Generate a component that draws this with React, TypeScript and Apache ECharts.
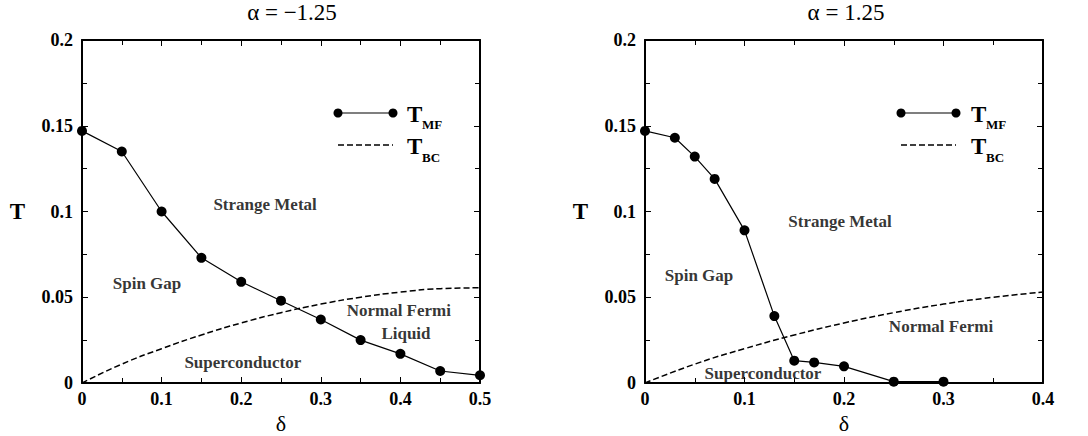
import React, { useEffect, useRef } from "react";
import * as echarts from "echarts";

// ---- data ----
const leftDelta = [0, 0.05, 0.1, 0.15, 0.2, 0.25, 0.3, 0.35, 0.4, 0.45, 0.5];
const leftTmf = [0.147, 0.135, 0.1, 0.073, 0.059, 0.048, 0.037, 0.025, 0.017, 0.007, 0.0045];
const rightDelta = [0, 0.03, 0.05, 0.07, 0.1, 0.13, 0.15, 0.17, 0.2, 0.25, 0.3];
const rightTmf = [0.147, 0.143, 0.132, 0.119, 0.089, 0.039, 0.013, 0.012, 0.0097, 0.0008, 0.0008];
const bcDelta = [0, 0.05, 0.1, 0.15, 0.2, 0.25, 0.3, 0.35, 0.4, 0.45, 0.5];
const bcValues = [0, 0.011, 0.02, 0.028, 0.035, 0.041, 0.046, 0.05, 0.053, 0.055, 0.0555];
const rightBcCount = 9;

const leftTitle = "α = −1.25";
const rightTitle = "α = 1.25";

const leftNotes: [number, number, string][] = [
  [0.23, 0.1038, "Strange Metal"],
  [0.0817, 0.0583, "Spin Gap"],
  [0.398, 0.042, "Normal Fermi"],
  [0.407, 0.0286, "Liquid"],
  [0.202, 0.0122, "Superconductor"],
];
const rightNotes: [number, number, string][] = [
  [0.196, 0.0939, "Strange Metal"],
  [0.0543, 0.0624, "Spin Gap"],
  [0.2975, 0.0332, "Normal Fermi"],
  [0.1186, 0.0058, "Superconductor"],
];

const FONT = "Liberation Serif";

function zip(xs: number[], ys: number[]) {
  return ys.map((y, i) => [xs[i], y]);
}

function xAxes(grid: number, max: number) {
  const base = {
    type: "value",
    gridIndex: grid,
    min: 0,
    max,
    interval: 0.1,
    splitLine: { show: false },
    axisLine: { show: true, onZero: false, lineStyle: { color: "#000", width: 2 } },
    axisTick: { show: true, inside: true, length: 6, lineStyle: { color: "#000", width: 1 } },
    minorTick: { show: true, splitNumber: 2, length: 5, lineStyle: { color: "#000", width: 1 } },
  };
  return [
    {
      ...base,
      position: "bottom",
      name: "δ",
      nameLocation: "middle",
      nameGap: 29,
      nameTextStyle: { fontFamily: FONT, fontSize: 22, color: "#000" },
      axisLabel: { fontFamily: FONT, fontWeight: "bold", fontSize: 18, color: "#000", margin: 7 },
    },
    { ...base, position: "top", axisLabel: { show: false } },
  ];
}

function yAxes(grid: number) {
  const base = {
    type: "value",
    gridIndex: grid,
    min: 0,
    max: 0.2,
    interval: 0.05,
    splitLine: { show: false },
    axisLine: { show: true, onZero: false, lineStyle: { color: "#000", width: 2 } },
    axisTick: { show: true, inside: true, length: 6, lineStyle: { color: "#000", width: 1 } },
    minorTick: { show: true, splitNumber: 2, length: 5, lineStyle: { color: "#000", width: 1 } },
  };
  return [
    {
      ...base,
      position: "left",
      name: "T",
      nameLocation: "middle",
      nameGap: 57,
      nameRotate: 0,
      nameTextStyle: {
        fontFamily: FONT,
        fontWeight: "bold",
        fontSize: 23,
        color: "#000",
        padding: [0, 0, 14, 0],
      },
      axisLabel: { fontFamily: FONT, fontWeight: "bold", fontSize: 18, color: "#000", margin: 9 },
    },
    { ...base, position: "right", axisLabel: { show: false } },
  ];
}

function notesSeries(xi: number, yi: number, notes: [number, number, string][]) {
  return {
    type: "scatter",
    xAxisIndex: xi,
    yAxisIndex: yi,
    symbolSize: 1,
    itemStyle: { color: "rgba(0,0,0,0)" },
    silent: true,
    data: notes.map((n) => ({ value: [n[0], n[1]], name: n[2] })),
    label: {
      show: true,
      position: "inside",
      formatter: (p: any) => p.name,
      fontFamily: FONT,
      fontWeight: "bold",
      fontSize: 17,
      color: "#000",
    },
  };
}

function legendGraphics(x0: number, x1: number, tx: number) {
  const t = { fontFamily: FONT, fontWeight: "bold", fill: "#000" };
  return [
    { type: "line", shape: { x1: x0, y1: 113, x2: x1, y2: 113 }, style: { stroke: "#000", lineWidth: 1.2 } },
    { type: "circle", shape: { cx: x0, cy: 113, r: 4.5 }, style: { fill: "#000" } },
    { type: "circle", shape: { cx: x1, cy: 113, r: 4.5 }, style: { fill: "#000" } },
    { type: "text", x: tx, y: 114, style: { ...t, text: "T", fontSize: 23, verticalAlign: "middle" } },
    { type: "text", x: tx + 15, y: 124, style: { ...t, text: "MF", fontSize: 13, verticalAlign: "middle" } },
    {
      type: "line",
      shape: { x1: x0, y1: 145, x2: x1, y2: 145 },
      style: { stroke: "#000", lineWidth: 1.5, lineDash: [6, 3] },
    },
    { type: "text", x: tx, y: 146, style: { ...t, text: "T", fontSize: 23, verticalAlign: "middle" } },
    { type: "text", x: tx + 15, y: 157, style: { ...t, text: "BC", fontSize: 13, verticalAlign: "middle" } },
  ];
}

export default function App() {
  const ref = useRef<HTMLDivElement>(null);
  useEffect(() => {
    document.body.style.margin = "0";
    if (!ref.current) return;
    const chart = echarts.init(ref.current, null, { renderer: "svg" });
    const mfLine = (xi: number, yi: number, data: number[][]) => ({
      type: "line",
      xAxisIndex: xi,
      yAxisIndex: yi,
      data,
      symbol: "circle",
      symbolSize: 10,
      itemStyle: { color: "#000" },
      lineStyle: { color: "#000", width: 1.2 },
      clip: false,
      silent: true,
    });
    const bcLine = (xi: number, yi: number, data: number[][]) => ({
      type: "line",
      xAxisIndex: xi,
      yAxisIndex: yi,
      data,
      smooth: true,
      showSymbol: false,
      symbol: "none",
      lineStyle: { color: "#000", width: 1.5, type: [6, 3] },
      silent: true,
    });
    chart.setOption({
      animation: false,
      backgroundColor: "#fff",
      grid: [
        { left: 82, top: 40, width: 398, height: 343, containLabel: false, outerBoundsMode: "none" },
        { left: 645, top: 40, width: 398, height: 343, containLabel: false, outerBoundsMode: "none" },
      ],
      xAxis: [...xAxes(0, 0.5), ...xAxes(1, 0.4)],
      yAxis: [...yAxes(0), ...yAxes(1)],
      series: [
        bcLine(0, 0, zip(bcDelta, bcValues)),
        mfLine(0, 0, zip(leftDelta, leftTmf)),
        notesSeries(0, 0, leftNotes),
        bcLine(2, 2, zip(bcDelta.slice(0, rightBcCount), bcValues.slice(0, rightBcCount))),
        mfLine(2, 2, zip(rightDelta, rightTmf)),
        notesSeries(2, 2, rightNotes),
      ],
      graphic: [
        {
          type: "text",
          x: 292,
          y: 12,
          style: { text: leftTitle, fontFamily: FONT, fontSize: 23, fill: "#000", align: "center", verticalAlign: "middle" },
        },
        {
          type: "text",
          x: 846,
          y: 12,
          style: { text: rightTitle, fontFamily: FONT, fontSize: 23, fill: "#000", align: "center", verticalAlign: "middle" },
        },
        ...legendGraphics(338, 393, 407),
        ...legendGraphics(901, 956, 971),
      ],
    });
    return () => chart.dispose();
  }, []);
  return <div ref={ref} style={{ width: 1088, height: 436 }} />;
}
